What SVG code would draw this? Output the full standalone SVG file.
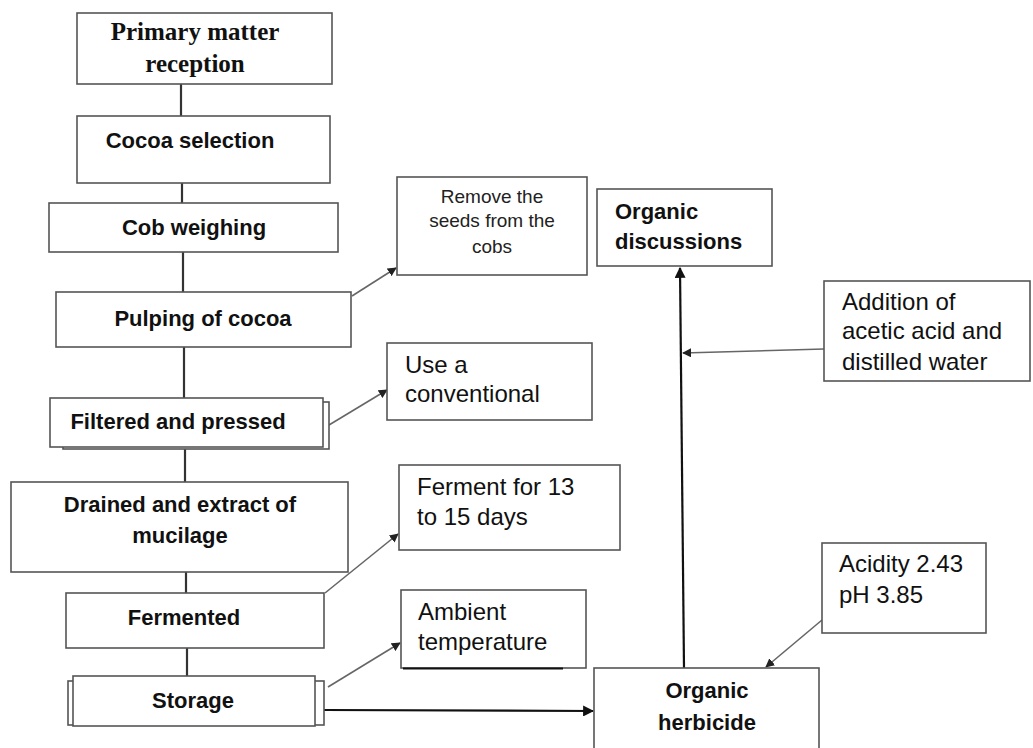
<svg xmlns="http://www.w3.org/2000/svg" width="1033" height="748" viewBox="0 0 1033 748">
<defs>
<style>
.box{fill:#fff;stroke:#555;stroke-width:1.6}
.sb{font-family:"Liberation Sans",Arial,sans-serif;font-weight:bold;font-size:22px;fill:#111}
.sr{font-family:"Liberation Sans",Arial,sans-serif;font-size:24px;fill:#111}
.ss{font-family:"Liberation Sans",Arial,sans-serif;font-size:19px;fill:#222}
.serif{font-family:"Liberation Serif","Times New Roman",serif;font-weight:bold;font-size:25px;fill:#111}
.vl{stroke:#333;stroke-width:2.2;fill:none}
.side{stroke:#666;stroke-width:1.6;fill:none}
.main{stroke:#111;stroke-width:2.2;fill:none}
</style>
<marker id="ah" viewBox="0 0 10 10" refX="9" refY="5" markerWidth="9" markerHeight="9" markerUnits="userSpaceOnUse" orient="auto"><path d="M0,0 L10,5 L0,10 z" fill="#222"/></marker>
<marker id="ahb" viewBox="0 0 10 10" refX="9" refY="5" markerWidth="11" markerHeight="11" markerUnits="userSpaceOnUse" orient="auto"><path d="M0,0 L10,5 L0,10 z" fill="#111"/></marker>
</defs>
<rect width="1033" height="748" fill="#fff"/>

<g id="connectors">
<line class="vl" x1="181" y1="84" x2="181" y2="116"/>
<line class="vl" x1="182" y1="183" x2="182" y2="203"/>
<line class="vl" x1="183" y1="252" x2="183" y2="292"/>
<line class="vl" x1="184" y1="347" x2="184" y2="398"/>
<line class="vl" x1="185" y1="449" x2="185" y2="482"/>
<line class="vl" x1="186" y1="572" x2="186" y2="593"/>
<line class="vl" x1="187" y1="648" x2="187" y2="676"/>
<line class="side" x1="352" y1="296" x2="396" y2="268" marker-end="url(#ah)"/>
<line class="side" x1="329" y1="425" x2="387" y2="390" marker-end="url(#ah)"/>
<line class="side" x1="325" y1="593" x2="398" y2="534" marker-end="url(#ah)"/>
<line class="side" x1="328" y1="687" x2="400" y2="643" marker-end="url(#ah)"/>
<line class="main" x1="324" y1="710" x2="593" y2="711" marker-end="url(#ahb)"/>
<line class="main" x1="684" y1="668" x2="680" y2="268" marker-end="url(#ahb)"/>
<line class="side" x1="824" y1="349" x2="683" y2="353" marker-end="url(#ah)"/>
<line class="side" x1="822" y1="620" x2="766" y2="667" marker-end="url(#ah)"/>
</g>

<g id="n1">
<rect class="box" x="77" y="13" width="255" height="71"/>
<text class="serif" x="195" y="40" text-anchor="middle">Primary matter</text>
<text class="serif" x="195" y="72" text-anchor="middle">reception</text>
</g>
<g id="n2">
<rect class="box" x="77" y="116" width="253" height="67"/>
<text class="sb" x="190" y="148" text-anchor="middle">Cocoa selection</text>
</g>
<g id="n3">
<rect class="box" x="49" y="203" width="289" height="49"/>
<text class="sb" x="194" y="235" text-anchor="middle">Cob weighing</text>
</g>
<g id="n4">
<rect class="box" x="56" y="292" width="295" height="55"/>
<text class="sb" x="203" y="326" text-anchor="middle">Pulping of cocoa</text>
</g>
<g id="n5">
<rect class="box" x="63" y="402" width="266" height="47"/>
<rect class="box" x="50" y="398" width="273" height="49"/>
<text class="sb" x="178" y="429" text-anchor="middle">Filtered and pressed</text>
</g>
<g id="n6">
<rect class="box" x="11" y="482" width="337" height="90"/>
<text class="sb" x="180" y="512" text-anchor="middle">Drained and extract of</text>
<text class="sb" x="180" y="543" text-anchor="middle">mucilage</text>
</g>
<g id="n7">
<rect class="box" x="66" y="593" width="258" height="55"/>
<text class="sb" x="184" y="625" text-anchor="middle">Fermented</text>
</g>
<g id="n8">
<rect class="box" x="68" y="681" width="256" height="44"/>
<rect class="box" x="73" y="676" width="242" height="50"/>
<text class="sb" x="193" y="708" text-anchor="middle">Storage</text>
</g>
<g id="n9">
<rect class="box" x="397" y="177" width="190" height="98"/>
<text class="ss" x="492" y="203" text-anchor="middle">Remove the</text>
<text class="ss" x="492" y="227" text-anchor="middle">seeds from the</text>
<text class="ss" x="492" y="253" text-anchor="middle">cobs</text>
</g>
<g id="n10">
<rect class="box" x="387" y="343" width="205" height="77"/>
<text class="sr" x="405" y="373">Use a</text>
<text class="sr" x="405" y="402">conventional</text>
</g>
<g id="n11">
<rect class="box" x="399" y="465" width="221" height="85"/>
<text class="sr" x="417" y="495">Ferment for 13</text>
<text class="sr" x="417" y="525">to 15 days</text>
</g>
<g id="n12">
<rect class="box" x="401" y="590" width="185" height="78"/>
<line x1="403" y1="668.5" x2="563" y2="668.5" stroke="#111" stroke-width="2"/>
<text class="sr" x="418" y="620">Ambient</text>
<text class="sr" x="418" y="650">temperature</text>
</g>
<g id="n13">
<rect class="box" x="597" y="189" width="175" height="77"/>
<text class="sb" x="615" y="219">Organic</text>
<text class="sb" x="615" y="249">discussions</text>
</g>
<g id="n14">
<rect class="box" x="824" y="281" width="206" height="100"/>
<text class="sr" x="842" y="310">Addition of</text>
<text class="sr" x="842" y="339">acetic acid and</text>
<text class="sr" x="842" y="370">distilled water</text>
</g>
<g id="n15">
<rect class="box" x="822" y="543" width="164" height="90"/>
<text class="sr" x="839" y="572">Acidity 2.43</text>
<text class="sr" x="839" y="603">pH 3.85</text>
</g>
<g id="n16">
<rect class="box" x="594" y="668" width="225" height="90"/>
<text class="sb" x="707" y="698" text-anchor="middle">Organic</text>
<text class="sb" x="707" y="730" text-anchor="middle">herbicide</text>
</g>
</svg>
